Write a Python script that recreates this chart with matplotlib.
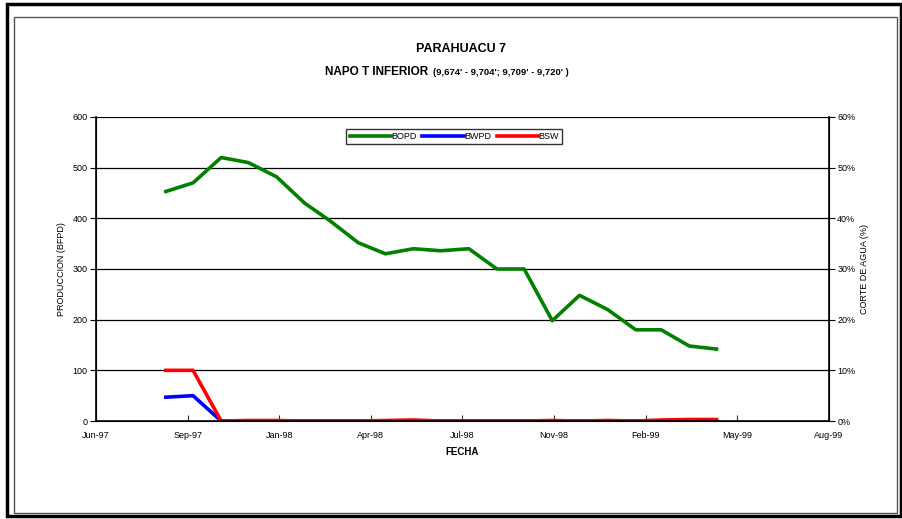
import datetime as dt
import matplotlib
matplotlib.use("Agg")
import matplotlib.pyplot as plt
import matplotlib.dates as mdates
from matplotlib.patches import Rectangle
from matplotlib.ticker import PercentFormatter

# Datos de produccion mensual (fin de mes)
meses = ["1997-08", "1997-09", "1997-10", "1997-11", "1997-12", "1998-01",
         "1998-02", "1998-03", "1998-04", "1998-05", "1998-06", "1998-07",
         "1998-08", "1998-09", "1998-10", "1998-11", "1998-12", "1999-01",
         "1999-02", "1999-03", "1999-04"]
bopd = [453, 470, 520, 510, 482, 430, 395, 352, 330, 340, 336, 340,
        300, 300, 198, 248, 220, 180, 180, 148, 142]
bwpd = [47, 50, 0, 0, 0, 0, 0, 0, 0, 0, 0, 0,
        0, 0, 0, 0, 0, 0, 0, 0.5, 0.5]
bsw = [0.10, 0.10, 0, 0.001, 0.001, 0, 0, 0, 0.001, 0.002, 0, 0,
       0, 0, 0.001, 0, 0.001, 0, 0.002, 0.003, 0.003]

etiquetas_x = ["Jun-97", "Sep-97", "Jan-98", "Apr-98", "Jul-98",
               "Nov-98", "Feb-99", "May-99", "Aug-99"]

def fin_de_mes(s):
    y, m = map(int, s.split("-"))
    nxt = dt.date(y + (m == 12), m % 12 + 1, 1)
    return nxt - dt.timedelta(days=1)

fechas = [fin_de_mes(m) for m in meses]

plt.rcParams['font.family'] = ['Liberation Sans', 'DejaVu Sans']

fig = plt.figure(figsize=(9.03, 5.19), dpi=100)
ax = fig.add_axes([0.1063, 0.1888, 0.8117, 0.5858])
ax2 = ax.twinx()

# Eje de fechas estilo Excel: marcas cada 101 dias
inicio = dt.date(1997, 6, 15)
ticks = [inicio + dt.timedelta(days=101 * k) for k in range(len(etiquetas_x))]
ax.set_xlim(mdates.date2num(ticks[0]), mdates.date2num(ticks[-1]))
ax.set_xticks(mdates.date2num(ticks))
ax.set_xticklabels(etiquetas_x)

ax.set_ylim(0, 600)
ax.set_yticks(range(0, 601, 100))
ax2.set_ylim(0, 0.6)
ax2.set_yticks([i / 10 for i in range(7)])
ax2.yaxis.set_major_formatter(PercentFormatter(1.0, decimals=0))

for y in range(100, 601, 100):
    ax.axhline(y, color='black', lw=0.9, zorder=0)

l1, = ax.plot(fechas, bopd, color='#008000', lw=2.6, label='BOPD')
l2, = ax.plot(fechas, bwpd, color='#0000FF', lw=2.6, label='BWPD')
l3, = ax2.plot(fechas, bsw, color='#FF0000', lw=2.6, label='BSW')

ax.spines['top'].set_visible(False)
ax2.spines['top'].set_visible(False)
for s in ['left', 'right', 'bottom']:
    ax2.spines[s].set_linewidth(1.2)

ax.tick_params(axis='x', direction='in', length=4, labelsize=6.5, pad=7, color='#333333')
ax.tick_params(axis='y', direction='out', length=4, labelsize=6.5, pad=2)
ax2.tick_params(axis='y', direction='out', length=4, labelsize=6.5, pad=2)

ax.set_ylabel('PRODUCCION (BFPD)', fontsize=6.5, labelpad=5)
ax2.set_ylabel('CORTE DE AGUA (%)', fontsize=6.5, labelpad=3)
ax.set_xlabel('FECHA', fontsize=7, fontweight='bold', labelpad=5)

leg = ax.legend(handles=[l1, l2, l3], loc='upper center', bbox_to_anchor=(0.489, 0.975),
                ncol=3, fontsize=6.5, frameon=True, fancybox=False, edgecolor='black',
                handlelength=4.6, handletextpad=0.05, columnspacing=0.6,
                borderpad=0.35)
leg.get_frame().set_linewidth(1.0)

fig.text(0.51, 0.9, 'PARAHUACU 7', ha='center', fontsize=9, fontweight='bold')
fig.text(0.474, 0.855, 'NAPO T INFERIOR', ha='right', fontsize=8.5, fontweight='bold')
fig.text(0.479, 0.855, "(9,674' - 9,704'; 9,709' - 9,720' )", ha='left', fontsize=6.8, fontweight='bold')

# Marco doble alrededor de la figura
fig.patches.append(Rectangle((0.008, 0.005), 0.99, 0.988, transform=fig.transFigure,
                             fill=False, edgecolor='black', lw=2.5))
fig.patches.append(Rectangle((0.016, 0.012), 0.977, 0.955, transform=fig.transFigure,
                             fill=False, edgecolor='#555555', lw=1.0))

fig.savefig('out.png', dpi=100)
